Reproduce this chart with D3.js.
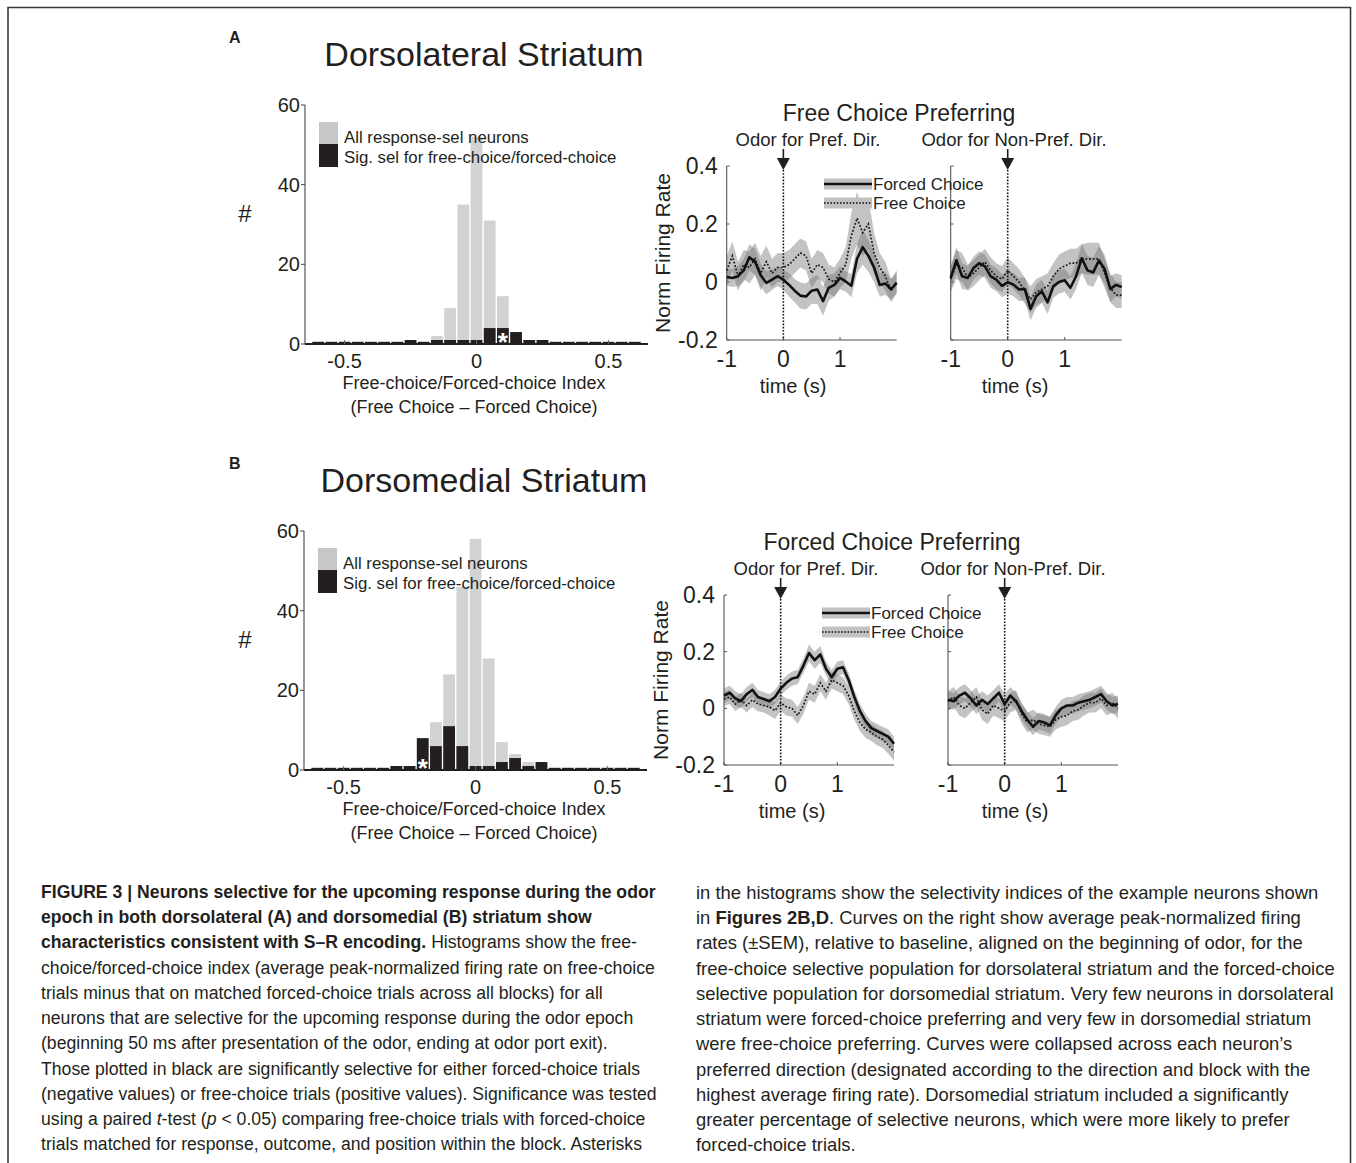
<!DOCTYPE html>
<html><head><meta charset="utf-8">
<script src="https://cdn.jsdelivr.net/npm/d3@7/dist/d3.min.js"></script>
<style>
html,body{margin:0;padding:0;background:#fff;}
svg{display:block;font-family:"Liberation Sans",Arial,Helvetica,sans-serif;}
</style></head><body>
<svg id="fig" width="1356" height="1163"></svg>
<script>
// ---------- histogram data: counts per 0.05-wide bin of the selectivity index ----------
const binCenters = [-0.60,-0.55,-0.50,-0.45,-0.40,-0.35,-0.30,-0.25,-0.20,-0.15,-0.10,-0.05,0,0.05,0.10,0.15,0.20,0.25,0.30,0.35,0.40,0.45,0.50,0.55,0.60];
const dlsAll = [0,0,0,0,0,0,0,1,0,2,9,35,52,31,12,3,1,1,0,0,0,0,0,0,0];
const dlsSig = [0,0,0,0,0,0,0,1,0,1,1,1,1,4,4,3,1,1,0,0,0,0,0,0,0];
const dmsAll = [0,0,0,0,0,0,1,1,8,12,24,46,58,28,7,4,2,2,0,0,0,0,0,0,0];
const dmsSig = [0,0,0,0,0,0,1,1,8,6,11,6,1,1,2,3,1,2,0,0,0,0,0,0,0];
const histYTicks = [0,20,40,60];
const histXTicks = [-0.5,0,0.5];
const histXTickLabels = ["-0.5","0","0.5"];
const dlsStarBin = 0.10;   // example neuron bin (dorsolateral)
const dmsStarBin = -0.20;  // example neuron bin (dorsomedial)

// ---------- population firing-rate curves (peak-normalized, relative to baseline) ----------
const lineTime = [-1,-0.9,-0.8,-0.7,-0.6,-0.5,-0.4,-0.3,-0.2,-0.1,0,0.1,0.2,0.3,0.4,0.5,0.6,0.7,0.8,0.9,1,1.1,1.2,1.3,1.4,1.5,1.6,1.7,1.8,1.9,2];
const lineYTicks = [-0.2,0,0.2,0.4];
const lineYTickLabels = ["-0.2","0","0.2","0.4"];
const lineXTicks = [-1,0,1];

// Dorsolateral, free-choice preferring, odor for preferred direction
const dlsPrefForced    = [0.017,0.014,0.02,0.04,0.085,0.07,0.023,-0.003,0.008,0.02,0.008,-0.01,-0.03,-0.047,-0.05,-0.03,-0.026,-0.066,-0.02,-0.01,0.014,0.002,-0.013,0.08,0.12,0.09,0.05,-0.01,-0.005,-0.025,-0.003];
const dlsPrefForcedSem = [0.03,0.03,0.035,0.04,0.045,0.045,0.04,0.04,0.035,0.035,0.035,0.04,0.04,0.045,0.045,0.045,0.05,0.05,0.045,0.04,0.04,0.035,0.04,0.05,0.06,0.055,0.05,0.04,0.04,0.035,0.035];
const dlsPrefFree      = [0.04,0.09,0.02,0.06,0.05,0.08,0.03,0.07,0.03,0.05,0.05,0.06,0.08,0.1,0.09,0.03,0.06,0.05,0.01,0.0,0.03,0.06,0.16,0.22,0.17,0.2,0.1,0.05,0.02,-0.03,0.0];
const dlsPrefFreeSem   = [0.05,0.05,0.05,0.05,0.055,0.055,0.06,0.055,0.05,0.05,0.05,0.05,0.05,0.05,0.05,0.05,0.05,0.05,0.05,0.05,0.05,0.06,0.08,0.09,0.08,0.09,0.07,0.05,0.05,0.04,0.04];
// Dorsolateral, odor for non-preferred direction
const dlsNonForced     = [0.014,0.075,0.02,0.014,0.048,0.065,0.054,0.02,0.008,-0.013,-0.001,-0.009,-0.026,-0.024,-0.093,-0.049,-0.032,-0.07,-0.015,0.0,0.006,-0.02,0.02,0.082,0.04,0.033,0.074,0.045,-0.024,-0.01,-0.017];
const dlsNonForcedSem  = [0.04,0.045,0.045,0.04,0.04,0.04,0.04,0.04,0.04,0.04,0.04,0.04,0.04,0.04,0.04,0.04,0.04,0.04,0.04,0.04,0.04,0.04,0.045,0.05,0.05,0.05,0.05,0.05,0.045,0.04,0.04];
const dlsNonFree       = [0.01,0.06,0.05,0.015,0.03,0.05,0.07,0.04,0.02,0.01,0.04,0.02,0.0,-0.03,-0.06,-0.035,-0.025,-0.015,0.02,0.045,0.055,0.065,0.065,0.08,0.08,0.08,0.08,0.03,-0.02,-0.045,-0.045];
const dlsNonFreeSem    = [0.045,0.05,0.05,0.045,0.045,0.045,0.045,0.045,0.045,0.045,0.045,0.045,0.045,0.045,0.045,0.045,0.045,0.045,0.045,0.05,0.05,0.05,0.05,0.05,0.055,0.055,0.055,0.05,0.05,0.045,0.045];
// Dorsomedial, forced-choice preferring, odor for preferred direction
const dmsPrefForced    = [0.045,0.055,0.035,0.025,0.05,0.065,0.04,0.033,0.025,0.04,0.07,0.09,0.105,0.11,0.15,0.195,0.17,0.19,0.14,0.11,0.14,0.145,0.1,0.04,-0.01,-0.045,-0.07,-0.08,-0.09,-0.1,-0.125];
const dmsPrefForcedSem = [0.025,0.025,0.025,0.025,0.025,0.025,0.025,0.025,0.025,0.025,0.025,0.025,0.025,0.025,0.025,0.03,0.03,0.03,0.025,0.025,0.025,0.025,0.025,0.025,0.025,0.025,0.025,0.025,0.025,0.025,0.025];
const dmsPrefFree      = [0.033,0.04,0.015,0.03,0.01,0.03,0.015,0.01,0.005,-0.008,0.02,0.005,0.0,-0.025,0.01,0.06,0.05,0.09,0.06,0.1,0.09,0.08,0.045,-0.01,-0.05,-0.075,-0.085,-0.1,-0.11,-0.13,-0.155];
const dmsPrefFreeSem   = [0.025,0.025,0.025,0.025,0.025,0.025,0.025,0.025,0.03,0.03,0.03,0.03,0.03,0.03,0.03,0.03,0.03,0.03,0.03,0.03,0.03,0.03,0.03,0.03,0.03,0.03,0.03,0.03,0.03,0.03,0.03];
// Dorsomedial, odor for non-preferred direction
const dmsNonForced     = [0.03,0.025,0.045,0.055,0.035,0.01,0.03,0.015,0.035,0.055,0.015,0.045,0.025,-0.01,-0.04,-0.065,-0.045,-0.05,-0.06,-0.025,0.0,0.01,0.01,0.02,0.025,0.03,0.04,0.05,0.025,0.01,0.015];
const dmsNonForcedSem  = [0.03,0.03,0.03,0.03,0.03,0.03,0.03,0.03,0.03,0.03,0.035,0.03,0.03,0.03,0.03,0.03,0.03,0.03,0.03,0.03,0.03,0.03,0.03,0.03,0.03,0.03,0.03,0.03,0.03,0.03,0.03];
const dmsNonFree       = [0.025,0.04,0.01,0.0,0.02,0.04,-0.005,-0.02,0.01,0.0,-0.01,0.02,0.03,-0.02,-0.05,-0.04,-0.055,-0.06,-0.065,-0.04,-0.03,-0.025,-0.01,-0.005,0.01,0.02,0.02,0.035,0.01,0.02,0.0];
const dmsNonFreeSem    = [0.035,0.035,0.035,0.035,0.035,0.035,0.035,0.035,0.035,0.035,0.035,0.035,0.035,0.035,0.035,0.035,0.035,0.035,0.035,0.035,0.035,0.035,0.035,0.035,0.035,0.035,0.035,0.035,0.035,0.035,0.035];

// ---------- caption ----------
const captionLeft = [
  [["FIGURE 3 |  Neurons selective for the upcoming response during the odor","b"]],
  [["epoch in both dorsolateral (A) and dorsomedial (B) striatum show","b"]],
  [["characteristics consistent with S–R encoding.","b"],[" Histograms show the free-",""]],
  [["choice/forced-choice index (average peak-normalized firing rate on free-choice",""]],
  [["trials minus that on matched forced-choice trials across all blocks) for all",""]],
  [["neurons that are selective for the upcoming response during the odor epoch",""]],
  [["(beginning 50 ms after presentation of the odor, ending at odor port exit).",""]],
  [["Those plotted in black are significantly selective for either forced-choice trials",""]],
  [["(negative values) or free-choice trials (positive values). Significance was tested",""]],
  [["using a paired ",""],["t","i"],["-test (",""],["p","i"],[" < 0.05) comparing free-choice trials with forced-choice",""]],
  [["trials matched for response, outcome, and position within the block. Asterisks",""]]
];
const captionRight = [
  [["in the histograms show the selectivity indices of the example neurons shown",""]],
  [["in ",""],["Figures 2B,D","b"],[". Curves on the right show average peak-normalized firing",""]],
  [["rates (±SEM), relative to baseline, aligned on the beginning of odor, for the",""]],
  [["free-choice selective population for dorsolateral striatum and the forced-choice",""]],
  [["selective population for dorsomedial striatum. Very few neurons in dorsolateral",""]],
  [["striatum were forced-choice preferring and very few in dorsomedial striatum",""]],
  [["were free-choice preferring. Curves were collapsed across each neuron’s",""]],
  [["preferred direction (designated according to the direction and block with the",""]],
  [["highest average firing rate). Dorsomedial striatum included a significantly",""]],
  [["greater percentage of selective neurons, which were more likely to prefer",""]],
  [["forced-choice trials.",""]]
];

const INK = "#231f20";
const svg = d3.select("#fig");

// outer frame of the figure
svg.append("path")
  .attr("d", "M8,1175V7.5H1350.5V1175")
  .attr("fill", "none").attr("stroke", "#3a3a3a").attr("stroke-width", 1.6);

// ---------- histogram panel ----------
function drawHist(o) {
  const g = svg.append("g");
  const x = d3.scaleLinear().domain([-0.65, 0.65]).range([o.x0, o.x1]);
  const y = d3.scaleLinear().domain([0, 60]).range([o.yBottom, o.yTop]);
  const bw = x(0.05) - x(0);
  const bins = binCenters.map((c, i) => ({c, all: o.all[i], sig: o.sig[i]}));

  // all response-selective neurons (gray)
  g.selectAll(".allbar").data(bins.filter(d => d.all > 0)).join("rect")
    .attr("x", d => x(d.c) - bw / 2 + 0.7).attr("width", bw - 1.4)
    .attr("y", d => y(d.all)).attr("height", d => y(0) - y(d.all))
    .attr("fill", "#d1d2d4");
  // x axis baseline
  g.append("line").attr("x1", o.x0).attr("x2", o.x1).attr("y1", y(0)).attr("y2", y(0))
    .attr("stroke", INK).attr("stroke-width", 2);
  // significantly selective (black), zero-count bins still show an edge
  g.selectAll(".sigbar").data(bins).join("rect")
    .attr("x", d => x(d.c) - bw / 2 + 0.7).attr("width", bw - 1.4)
    .attr("y", d => Math.min(y(d.sig), y(0) - 2.2))
    .attr("height", d => Math.max(y(0) - y(d.sig), 2.2) + 0.8)
    .attr("fill", INK);

  // y axis
  g.append("line").attr("x1", o.x0).attr("x2", o.x0).attr("y1", y(60)).attr("y2", y(0))
    .attr("stroke", "#444").attr("stroke-width", 1.1);
  g.selectAll(".yt").data(histYTicks).join("line")
    .attr("x1", o.x0 - 4).attr("x2", o.x0).attr("y1", d => y(d)).attr("y2", d => y(d))
    .attr("stroke", "#444").attr("stroke-width", 1);
  g.selectAll(".yl").data(histYTicks).join("text")
    .attr("x", o.x0 - 5).attr("y", d => y(d) + 7).attr("text-anchor", "end")
    .attr("font-size", 20).attr("fill", INK).text(d => d);
  // x ticks and labels
  g.selectAll(".xt").data(histXTicks).join("line")
    .attr("x1", d => x(d)).attr("x2", d => x(d)).attr("y1", y(0) - 4).attr("y2", y(0))
    .attr("stroke", "#666").attr("stroke-width", 1);
  g.selectAll(".xl").data(histXTicks).join("text")
    .attr("x", d => x(d)).attr("y", y(0) + 24).attr("text-anchor", "middle")
    .attr("font-size", 20).attr("fill", INK).text((d, i) => histXTickLabels[i]);

  // example neuron marker
  const starBin = bins.find(d => Math.abs(d.c - o.star) < 1e-6);
  g.append("text").attr("x", x(starBin.c)).attr("y", y(0) + 7)
    .attr("text-anchor", "middle").attr("font-size", 26).attr("font-weight", "bold")
    .attr("fill", "#fff").text("*");

  // axis titles
  g.append("text").attr("x", 245).attr("y", y(0) - 122).attr("text-anchor", "middle")
    .attr("font-size", 24).attr("fill", INK).text("#");
  g.append("text").attr("x", 474).attr("y", y(0) + 45).attr("text-anchor", "middle")
    .attr("font-size", 18).attr("fill", INK).text("Free-choice/Forced-choice Index");
  g.append("text").attr("x", 474).attr("y", y(0) + 69).attr("text-anchor", "middle")
    .attr("font-size", 18).attr("fill", INK).text("(Free Choice – Forced Choice)");

  // legend
  const ly = y(60) + 17;
  g.append("rect").attr("x", o.x0 + 14).attr("y", ly).attr("width", 19).attr("height", 22).attr("fill", "#c6c7c9");
  g.append("rect").attr("x", o.x0 + 14).attr("y", ly + 22).attr("width", 19).attr("height", 23).attr("fill", INK);
  g.append("text").attr("x", o.x0 + 39).attr("y", ly + 21).attr("font-size", 16.8).attr("fill", INK)
    .text("All response-sel neurons");
  g.append("text").attr("x", o.x0 + 39).attr("y", ly + 41).attr("font-size", 16.8).attr("fill", INK)
    .text("Sig. sel for free-choice/forced-choice");

  // panel letter and region title
  g.append("text").attr("x", 229).attr("y", y(60) - 62).attr("font-size", 16).attr("font-weight", "bold")
    .attr("fill", INK).text(o.letter);
  g.append("text").attr("x", 484).attr("y", y(60) - 39).attr("text-anchor", "middle")
    .attr("font-size", 34).attr("fill", INK).text(o.title);
}

// ---------- firing-rate panel ----------
function drawRate(o) {
  const g = svg.append("g");
  const y = d3.scaleLinear().domain([-0.2, 0.4]).range([o.yBottom, o.yTop]);
  const band = (xs, m, s) => d3.area().x((d, i) => xs(lineTime[i])).y0((d, i) => y(m[i] - s[i])).y1((d, i) => y(m[i] + s[i]))(m);
  const ln = (xs, m) => d3.line().x((d, i) => xs(lineTime[i])).y(d => y(d))(m);

  o.plots.forEach((p, k) => {
    const x = d3.scaleLinear().domain([-1, 2]).range([p.x0, p.x1]);
    // SEM bands
    g.append("path").attr("d", band(x, p.free, p.freeSem)).attr("fill", "#6f6f6f").attr("fill-opacity", 0.42);
    g.append("path").attr("d", band(x, p.forced, p.forcedSem)).attr("fill", "#6f6f6f").attr("fill-opacity", 0.42);
    // axes
    g.append("line").attr("x1", x(-1)).attr("x2", x(-1)).attr("y1", y(0.4)).attr("y2", y(-0.2))
      .attr("stroke", "#555").attr("stroke-width", 1.1);
    g.append("line").attr("x1", x(-1)).attr("x2", x(2)).attr("y1", y(-0.2)).attr("y2", y(-0.2))
      .attr("stroke", "#555").attr("stroke-width", 1.1);
    g.selectAll(null).data(lineYTicks).join("line")
      .attr("x1", x(-1)).attr("x2", x(-1) + 3).attr("y1", d => y(d)).attr("y2", d => y(d))
      .attr("stroke", "#555").attr("stroke-width", 1);
    g.selectAll(null).data(lineXTicks).join("line")
      .attr("x1", d => x(d)).attr("x2", d => x(d)).attr("y1", y(-0.2) - 3).attr("y2", y(-0.2))
      .attr("stroke", "#555").attr("stroke-width", 1);
    g.selectAll(null).data(lineXTicks).join("text")
      .attr("x", d => x(d)).attr("y", y(-0.2) + 27).attr("text-anchor", "middle")
      .attr("font-size", 23).attr("fill", INK).text(d => d);
    if (k === 0) {
      g.selectAll(null).data(lineYTicks).join("text")
        .attr("x", x(-1) - 9).attr("y", d => y(d) + 8).attr("text-anchor", "end")
        .attr("font-size", 23).attr("fill", INK).text((d, i) => lineYTickLabels[i]);
    }
    // odor onset marker
    g.append("line").attr("x1", x(0)).attr("x2", x(0)).attr("y1", y(0.4) + 4).attr("y2", y(-0.2))
      .attr("stroke", "#111").attr("stroke-width", 1.6).attr("stroke-dasharray", "1.6,1.6");
    g.append("line").attr("x1", x(0)).attr("x2", x(0)).attr("y1", y(0.4) - 17).attr("y2", y(0.4) - 7)
      .attr("stroke", INK).attr("stroke-width", 1.6);
    g.append("path")
      .attr("d", `M${x(0) - 6.5},${y(0.4) - 8}L${x(0) + 6.5},${y(0.4) - 8}L${x(0)},${y(0.4) + 4}Z`)
      .attr("fill", INK);
    // mean curves
    g.append("path").attr("d", ln(x, p.free)).attr("fill", "none")
      .attr("stroke", "#1a1a1a").attr("stroke-width", 1.7).attr("stroke-dasharray", "1.8,1.8");
    g.append("path").attr("d", ln(x, p.forced)).attr("fill", "none")
      .attr("stroke", "#111").attr("stroke-width", 2.6).attr("stroke-linejoin", "round");
    g.append("text").attr("x", p.timeX).attr("y", y(-0.2) + 53).attr("text-anchor", "middle")
      .attr("font-size", 20).attr("fill", INK).text("time (s)");
    g.append("text").attr("x", p.odorX).attr("y", y(0.4) - 20).attr("text-anchor", "middle")
      .attr("font-size", 18.5).attr("fill", INK).text(p.odor);
  });

  g.append("text").attr("x", o.titleX).attr("y", y(0.4) - 45).attr("text-anchor", "middle")
    .attr("font-size", 23).attr("fill", INK).text(o.title);
  g.append("text").attr("transform", `translate(${o.ylabX},${(y(0.4) + y(-0.2)) / 2}) rotate(-90)`)
    .attr("text-anchor", "middle").attr("font-size", 21).attr("fill", INK).text("Norm Firing Rate");

  // legend
  const lx = o.legX, lys = [y(0.4) + 18, y(0.4) + 37];
  [["Forced Choice", "solid"], ["Free Choice", "dot"]].forEach((e, i) => {
    g.append("rect").attr("x", lx).attr("y", lys[i] - 5.5).attr("width", 48).attr("height", 11).attr("fill", "#c2c2c2");
    const l = g.append("line").attr("x1", lx).attr("x2", lx + 48).attr("y1", lys[i]).attr("y2", lys[i]).attr("stroke", "#111");
    if (e[1] === "solid") l.attr("stroke-width", 2.6); else l.attr("stroke-width", 1.6).attr("stroke-dasharray", "1.6,1.6");
    g.append("text").attr("x", lx + 49).attr("y", lys[i] + 6).attr("font-size", 17).attr("fill", INK).text(e[0]);
  });
}

drawHist({x0: 305, x1: 648, yTop: 105, yBottom: 344, all: dlsAll, sig: dlsSig, star: dlsStarBin, letter: "A", title: "Dorsolateral Striatum"});
drawHist({x0: 304, x1: 647, yTop: 531, yBottom: 770, all: dmsAll, sig: dmsSig, star: dmsStarBin, letter: "B", title: "Dorsomedial Striatum"});

drawRate({yTop: 166, yBottom: 340, title: "Free Choice Preferring", titleX: 899, ylabX: 670, legX: 824,
  plots: [
    {x0: 726.7, x1: 896.7, forced: dlsPrefForced, forcedSem: dlsPrefForcedSem, free: dlsPrefFree, freeSem: dlsPrefFreeSem, odor: "Odor for Pref. Dir.", odorX: 808, timeX: 793},
    {x0: 950.7, x1: 1121.7, forced: dlsNonForced, forcedSem: dlsNonForcedSem, free: dlsNonFree, freeSem: dlsNonFreeSem, odor: "Odor for Non-Pref. Dir.", odorX: 1014, timeX: 1015}
  ]});
drawRate({yTop: 595, yBottom: 765, title: "Forced Choice Preferring", titleX: 892, ylabX: 668, legX: 822,
  plots: [
    {x0: 724, x1: 894, forced: dmsPrefForced, forcedSem: dmsPrefForcedSem, free: dmsPrefFree, freeSem: dmsPrefFreeSem, odor: "Odor for Pref. Dir.", odorX: 806, timeX: 792},
    {x0: 948, x1: 1118, forced: dmsNonForced, forcedSem: dmsNonForcedSem, free: dmsNonFree, freeSem: dmsNonFreeSem, odor: "Odor for Non-Pref. Dir.", odorX: 1013, timeX: 1015}
  ]});

// ---------- caption, two columns in a condensed setting ----------
function drawCaption(lines, x, y0) {
  const g = svg.append("g");
  const texts = lines.map((segs, i) => {
    const t = g.append("text").attr("x", 0).attr("y", y0 + i * 25.25)
      .attr("font-size", 19).attr("fill", INK);
    segs.forEach(s => {
      const ts = t.append("tspan").text(s[0]);
      if (s[1] === "b") ts.attr("font-weight", "bold");
      if (s[1] === "i") ts.attr("font-style", "italic");
    });
    return t;
  });
  return {g, texts, x};
}
const capL = drawCaption(captionLeft, 41, 898);
const capR = drawCaption(captionRight, 696, 899);
// horizontal condensing so each column's long regular line spans the column
const sL = 614 / capL.texts[3].node().getComputedTextLength();
const sR = 638 / capR.texts[4].node().getComputedTextLength();
capL.g.attr("transform", `translate(${capL.x},0) scale(${sL},1)`);
capR.g.attr("transform", `translate(${capR.x},0) scale(${sR},1)`);
</script>
</body></html>
